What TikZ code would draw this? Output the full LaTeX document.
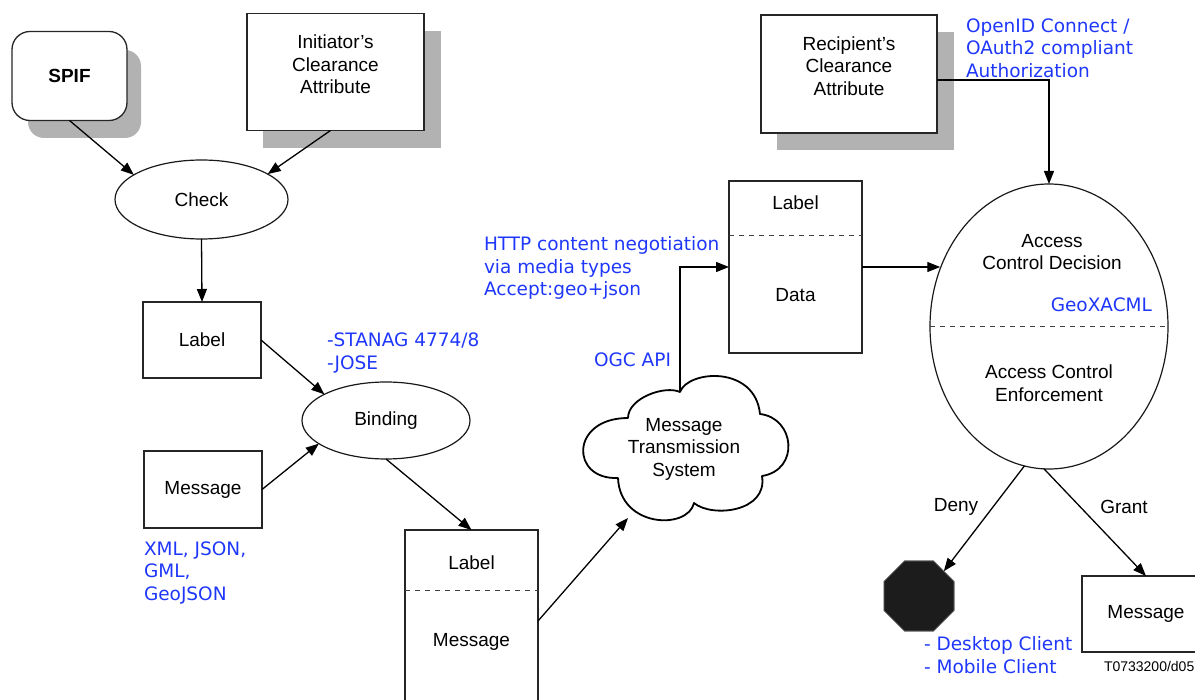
\documentclass[tikz,border=0pt]{standalone}
\usepackage{fontspec}
\setmainfont{Liberation Sans}
\newfontfamily\vfont{DejaVu Sans}
\usetikzlibrary{arrows.meta,shapes.geometric,calc}
\definecolor{shadowgray}{RGB}{178,178,178}
\definecolor{noteblue}{RGB}{30,55,250}
\definecolor{octfill}{RGB}{28,28,28}
\begin{document}
\begin{tikzpicture}[x=1pt,y=-1pt,
  every node/.style={font=\fontsize{19}{22.5}\selectfont, inner sep=0pt, outer sep=0pt},
  box/.style={draw=black!85, line width=1.3pt, rectangle, fill=white},
  shadowbox/.style={fill=shadowgray, draw=none, rectangle},
  oval/.style={draw=black!90, line width=1.2pt, ellipse},
  arr/.style={line width=1.3pt, -{Triangle[length=13pt,width=10pt]}},
  cloudline/.style={draw=black, line width=1.8pt, line join=round},
  divider/.style={draw=black!75, line width=1pt, dash pattern=on 5pt off 5pt},
  note/.style={font=\vfont\fontsize{18.5}{22.5}\selectfont, text=noteblue, align=left},
  txt/.style={align=center},
]
\useasboundingbox (0,0) rectangle (1195,700);
\clip (0,0) rectangle (1195,700);

% SPIF
\node[shadowbox, rounded corners=16pt, minimum width=113pt, minimum height=88pt] (spifsh) at (84.5,94) {};
\node[box, rounded corners=18pt, minimum width=115pt, minimum height=89pt] (spif) at (69.5,76) {\bfseries SPIF};

% Initiator
\node[shadowbox, minimum width=178pt, minimum height=117pt] (initsh) at (352,89.5) {};
\node[box, minimum width=177pt, minimum height=117pt] (init) at (335.5,72) {};
\node[txt] (inittxt) at (335.5,64.5) {Initiator’s\\Clearance\\Attribute};

% Check
\node[oval, minimum width=173pt, minimum height=79pt] (check) at (201.5,199.5) {Check};

% Label / Message
\node[box, minimum width=118pt, minimum height=76pt] (label) at (202,340) {Label};
\node[box, minimum width=118pt, minimum height=77pt] (msg) at (203,489.5) {Message};

% Binding
\node[oval, minimum width=168pt, minimum height=77pt] (bind) at (386,420.5) {Binding};

% Label/Message package
\node[box, minimum width=133pt, minimum height=182pt] (lm) at (471.5,621) {};
\node (lmlabel) at (471.5,563) {Label};
\node (lmmsg) at (471.5,642) {Message};

% Cloud
\draw[cloudline] (680,392)
  .. controls (688,370) and (755,365) .. (760,414)
  .. controls (795,418) and (800,470) .. (762,476)
  .. controls (768,512) and (712,518) .. (694,503)
  .. controls (688,530) and (620,528) .. (618,478)
  .. controls (570,480) and (570,418) .. (628,418)
  .. controls (628,398) and (665,385) .. cycle;
\coordinate (cloudtop) at (680,392);
\coordinate (cloudin) at (628,518);
\node[txt] (cloud) at (684,449) {Message\\Transmission\\System};

% Label/Data package
\node[box, minimum width=133pt, minimum height=172pt] (ld) at (795.5,267) {};
\node (ldlabel) at (795.5,203) {Label};
\node (lddata) at (795.5,295) {Data};

% Recipient
\node[shadowbox, minimum width=177pt, minimum height=118pt] (rcptsh) at (865.5,91) {};
\node[box, minimum width=176pt, minimum height=118pt] (rcpt) at (849,74) {};
\node[txt] (rcpttxt) at (849,66) {Recipient’s\\Clearance\\Attribute};

% Access control ellipse
\node[oval, minimum width=238pt, minimum height=285pt] (acd) at (1049,326.5) {};
\node[txt] (acdtxt) at (1052,252) {Access\\Control Decision};
\node[txt] (acetxt) at (1049,383) {Access Control\\Enforcement};
\node[note, anchor=east] (geox) at (1152,305) {GeoXACML};

% Deny / Grant targets
\node[regular polygon, regular polygon sides=8, minimum size=76pt, fill=octfill, draw=black!60, line width=0.8pt] (oct) at (919,596) {};
\node[box, minimum width=128pt, minimum height=76pt] (msg2) at (1146,614) {Message};

% Dividers
\draw[divider] ($(ld.north west)+(0,55)$) -- ($(ld.north east)+(0,55)$);
\draw[divider] ($(lm.north west)+(0,60)$) -- ($(lm.north east)+(0,60)$);
\draw[divider] (acd.west) -- (acd.east);

% Connectors
\draw[arr] (spif.south) -- (check.160);
\draw[arr] ([xshift=-5pt]init.south) -- (check.21);
\draw[arr] (check.south) -- (label.north);
\draw[arr] (label.east) -- (bind.157);
\draw[arr] (msg.east) -- (bind.199);
\draw[arr] (bind.south) -- (lm.north);
\draw[arr] (lm.east) -- (cloudin);
\draw[arr] (cloudtop) |- (ld.west);
\draw[arr] (ld.east) -- (ld.east -| acd.152);
\draw[arr] ([yshift=-6pt]rcpt.east) -| (acd.north);
\draw[arr] (acd.260) -- (oct.45);
\draw[arr] (acd.268) -- (msg2.north);

\node (deny) at (956,507) {Deny};
\node (grant) at (1124,507) {Grant};

% Notes
\node[note, anchor=west] (stanag) at (327,353) {-STANAG 4774/8\\-JOSE};
\node[note, anchor=west] (formats) at (144,572.5) {XML, JSON,\\GML,\\GeoJSON};
\node[note, anchor=west] (http) at (484,268) {HTTP content negotiation\\via media types\\Accept:geo+json};
\node[note, anchor=east] (ogc) at (671,360) {OGC API};
\node[note, anchor=west] (oidc) at (966,48) {OpenID Connect /\\OAuth2 compliant\\Authorization};
\node[note, anchor=west] (clients) at (924,655) {- Desktop Client\\- Mobile Client};
\node[anchor=west, font=\fontsize{14}{16}\selectfont] (ref) at (1104,666) {T0733200/d05};
\end{tikzpicture}
\end{document}
